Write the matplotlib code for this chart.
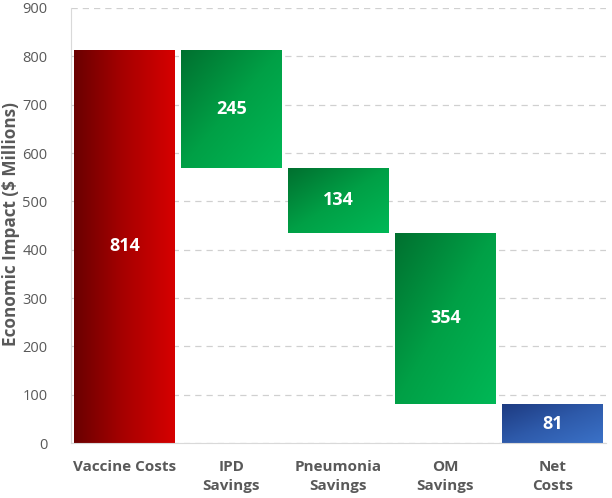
import numpy as np
import matplotlib.pyplot as plt
from matplotlib.colors import LinearSegmentedColormap
from matplotlib.patches import Rectangle

plt.rcParams['font.family'] = ['Open Sans', 'DejaVu Sans']

categories = ['Vaccine Costs', 'IPD\nSavings', 'Pneumonia\nSavings', 'OM\nSavings', 'Net\nCosts']
amounts = [814, -245, -134, -354, 81]
labels = ['814', '245', '134', '354', '81']
kinds = ['cost', 'save', 'save', 'save', 'net']

fig = plt.figure(figsize=(6.12, 4.98), dpi=100)
ax = fig.add_axes([0.116, 0.110, 0.874, 0.874])

cmaps = {
    'cost': LinearSegmentedColormap.from_list('c', ['#6a0000', '#a80000', '#d60000']),
    'save': LinearSegmentedColormap.from_list('s', ['#00702f', '#00a046', '#00b856']),
    'net': LinearSegmentedColormap.from_list('n', ['#1d3a80', '#2e5aaa', '#3b72c8']),
}

w = 0.935
running = 0
for i, (amt, kind) in enumerate(zip(amounts, kinds)):
    if kind == 'net':
        lo, hi = 0, amt
    elif amt > 0:
        lo, hi = running, running + amt
        running = hi
    else:
        lo, hi = running + amt, running
        running = lo
    x0, x1 = i - w / 2, i + w / 2
    if kind == 'cost':
        grad = np.tile(np.linspace(0, 1, 200), (50, 1))
    else:
        # dark top-left -> light bottom-right (origin lower: row 0 is bottom)
        xx, yy = np.meshgrid(np.linspace(0, 1, 200), np.linspace(0, 1, 200))
        grad = (xx + (1 - yy)) / 2
    im = ax.imshow(grad, cmap=cmaps[kind], extent=[x0, x1, lo, hi],
                   origin='lower', aspect='auto', zorder=2)
    rect = Rectangle((x0, lo), w, hi - lo, transform=ax.transData, fill=False, lw=0)
    ax.add_patch(rect)
    im.set_clip_path(rect)
    ax.text(i, (lo + hi) / 2, labels[i], ha='center', va='center', color='white',
            fontsize=13, fontweight='bold', zorder=3)

ax.set_xlim(-0.5, len(categories) - 0.5)
ax.set_ylim(0, 900)
ax.set_yticks(range(0, 901, 100))
ax.set_xticks(range(len(categories)))
ax.set_xticklabels(categories, fontsize=11, fontweight='bold', color='#595959',
                   linespacing=1.45)
ax.tick_params(axis='y', labelsize=10.5, colors='#595959', length=0, pad=17)
ax.tick_params(axis='x', length=0, pad=12)
ax.yaxis.grid(True, ls=(0, (5, 4)), color='#d0d0d0', lw=0.9, zorder=0)
ax.set_axisbelow(True)
for s in ['top', 'right']:
    ax.spines[s].set_visible(False)
for s in ['left', 'bottom']:
    ax.spines[s].set_color('#d9d9d9')
fig.text(11 / 612, 1 - 224 / 498, 'Economic Impact ($ Millions)', rotation=90,
         ha='center', va='center', fontsize=12.3, fontweight='bold', color='#595959')

fig.savefig('out.png', dpi=100)
